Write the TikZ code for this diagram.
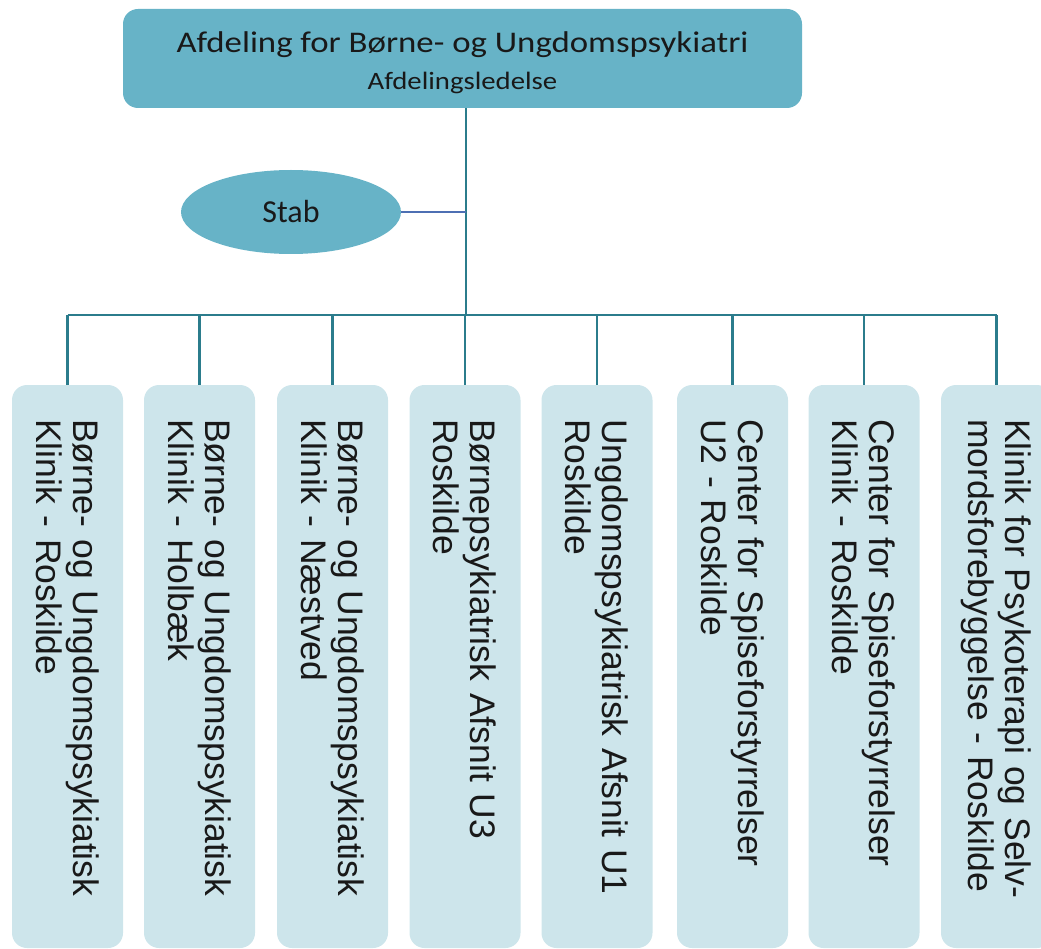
\documentclass[tikz,border=0pt]{standalone}
\usepackage{fontspec}
\setmainfont{Carlito}
\newfontfamily\unitfont{Liberation Sans}
\usetikzlibrary{shapes.geometric,calc}
\definecolor{headblue}{HTML}{67B3C7}
\definecolor{unitblue}{HTML}{CDE5EB}
\definecolor{linkteal}{HTML}{2B7C8C}
\definecolor{stablink}{HTML}{4D6FB3}

\begin{document}
\begin{tikzpicture}[x=1pt,y=-1pt,
  head/.style={fill=headblue,rounded corners=15pt,minimum width=679pt,minimum height=99pt,
    align=center,text=black!90,font=\fontsize{30}{36}\selectfont},
  staff/.style={ellipse,fill=headblue,minimum width=220pt,minimum height=84pt,inner sep=0pt,
    text=black!90,font=\fontsize{32}{36}\selectfont},
  unit/.style={fill=unitblue,rounded corners=15pt,rotate=-90,minimum width=563pt,minimum height=111pt,
    inner xsep=34pt,text width=495pt,align=left,text=black!90,font=\unitfont\fontsize{35.5}{37}\selectfont},
  link/.style={draw=linkteal,line width=2.5pt}]
  \useasboundingbox (0,0) rectangle (1041,949);
  \node[head] (top) at (462.5,58.5)
    {\rule{0pt}{30pt}\scalebox{1.16}[1]{Afdeling for Børne- og Ungdomspsykiatri}\\[1pt]
     \scalebox{1.15}[1]{\fontsize{25}{28}\selectfont Afdelingsledelse}};
  \node[staff] (stab) at (291,212) {Stab};
  \coordinate (bus) at (466,315);
  \foreach \x/\txt [count=\i] in {
    67.5/{Børne- og Ungdomspsykiatisk\\Klinik - Roskilde},
    199.5/{Børne- og Ungdomspsykiatisk\\Klinik - Holbæk},
    332.5/{Børne- og Ungdomspsykiatisk\\Klinik - Næstved},
    465/{Børnepsykiatrisk Afsnit U3\\Roskilde},
    597/{Ungdomspsykiatrisk Afsnit U1\\Roskilde},
    732.5/{Center for Spiseforstyrrelser\\U2 - Roskilde},
    864/{Center for Spiseforstyrrelser\\Klinik - Roskilde},
    996.5/{Klinik for Psykoterapi og Selv-\\mordsforebyggelse - Roskilde}}
    \node[unit] (u\i) at (\x,666.5) {\txt};
  \path[link]
    (top.south -| bus) edge (bus)
    (bus -| u1.west) edge (bus -| u8.west);
  \foreach \i in {1,...,8}
    \path[link] (bus -| u\i.west) edge (u\i.west);
  \path[draw=stablink,line width=2.5pt]
    (stab.east) edge (stab.east -| bus);
\end{tikzpicture}
\end{document}
